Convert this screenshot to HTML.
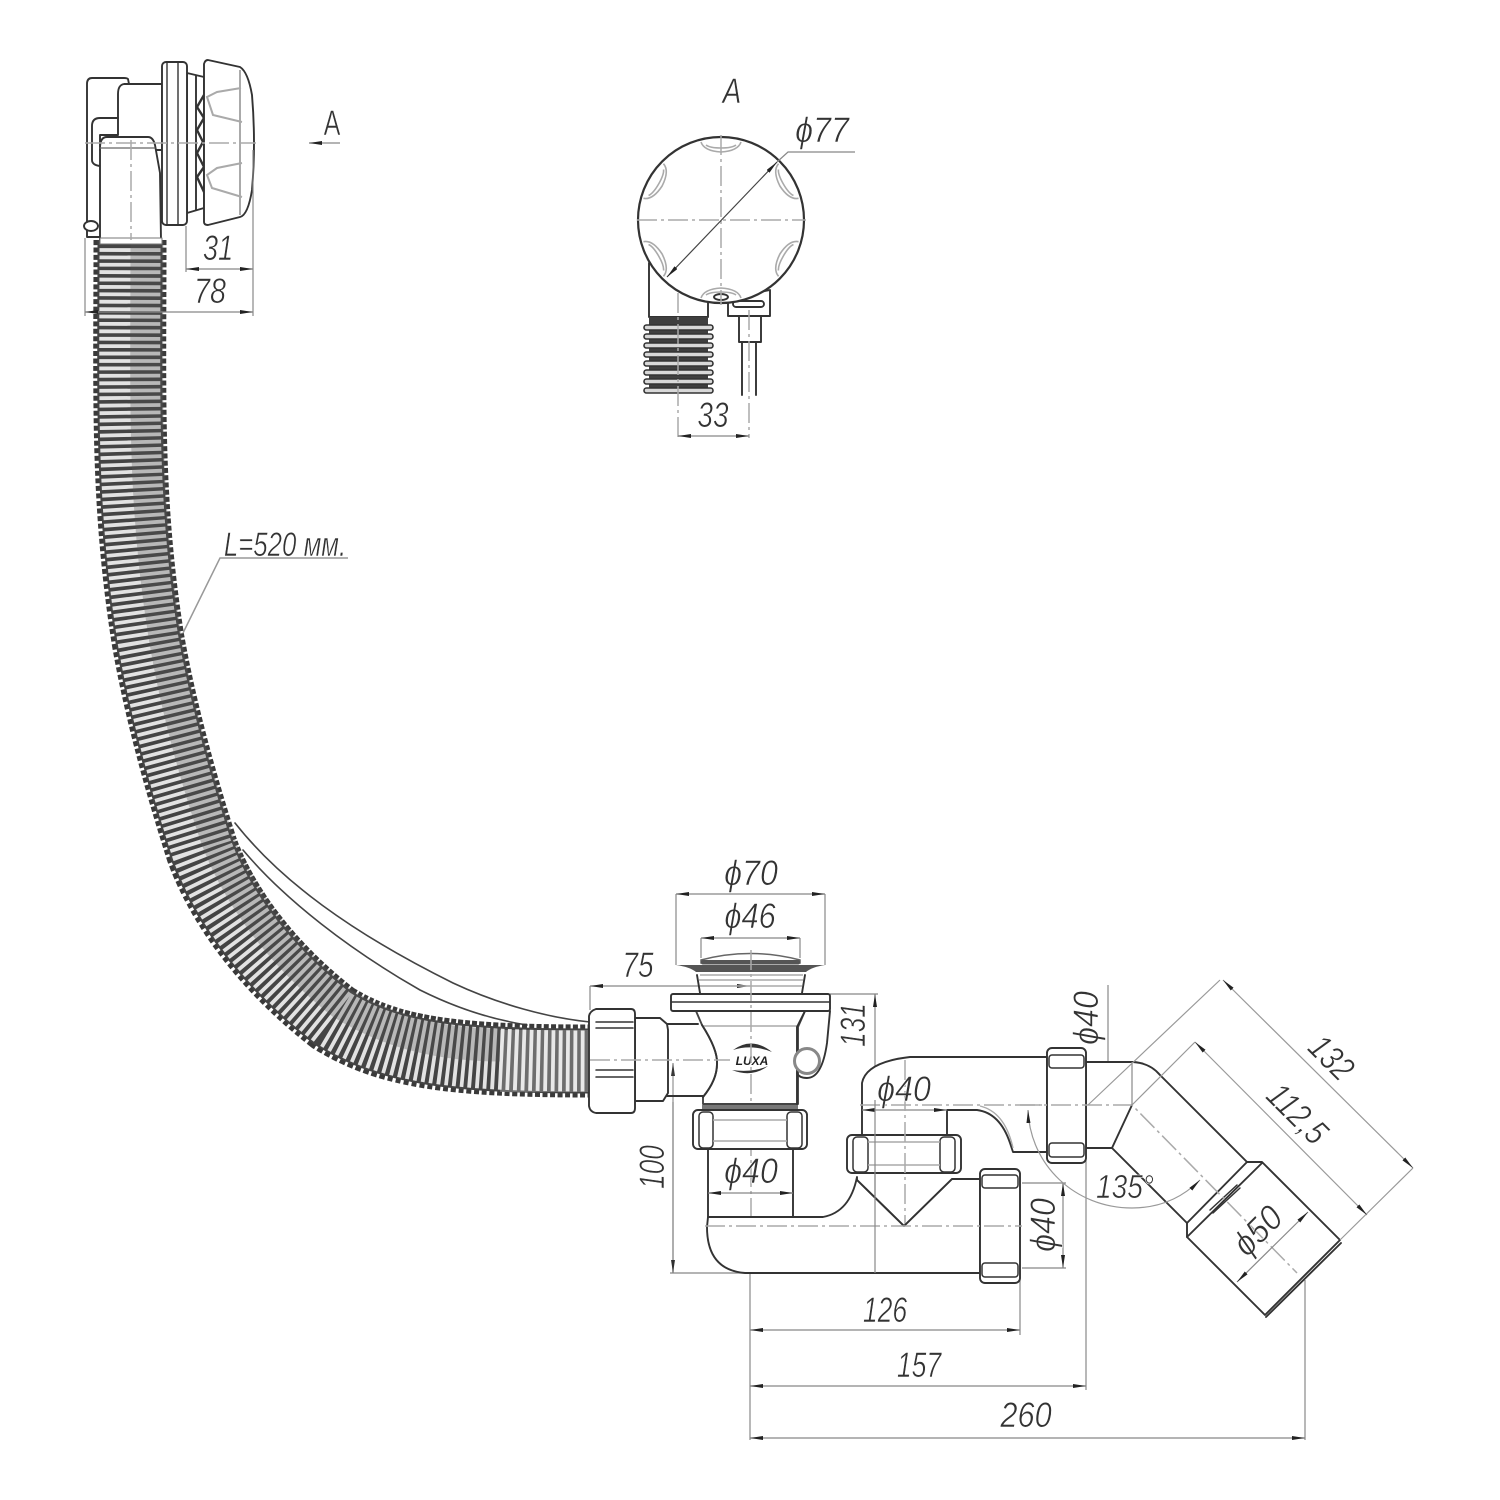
<!DOCTYPE html>
<html lang="ru"><head><meta charset="utf-8"><title>Drain assembly</title>
<style>
html,body{margin:0;padding:0;background:#fff}
svg{display:block;filter:blur(.35px)}
.k{fill:none;stroke:#333;stroke-width:1.9;stroke-linejoin:round;stroke-linecap:round}
.w{fill:#fff;stroke:#333;stroke-width:1.9;stroke-linejoin:round}
.g{fill:none;stroke:#aaa;stroke-width:1.4}
.c{fill:none;stroke:#aaa;stroke-width:1.5;stroke-dasharray:20 4 3 4}
.d{fill:none;stroke:#888;stroke-width:1.2}
.a{marker-start:url(#ar);marker-end:url(#ar)}
.b{marker-end:url(#ar)}
.s{fill:none;stroke:#aaa;stroke-width:1.6}
text{font-family:"Liberation Sans","DejaVu Sans",sans-serif;font-style:italic;font-size:35px;fill:#333;stroke:#fff;stroke-width:.6;text-anchor:middle}
</style></head><body>
<svg width="1500" height="1500" viewBox="0 0 1500 1500" xmlns="http://www.w3.org/2000/svg">
<defs>
<marker id="ar" viewBox="0 0 13 4" refX="13" refY="2" markerUnits="userSpaceOnUse" markerWidth="13" markerHeight="4" orient="auto-start-reverse"><path d="M0 0L13 2L0 4z" fill="#222"/></marker>
</defs>
<rect width="1500" height="1500" fill="#fff"/>

<!-- casing lines of the hose -->
<path class="k" d="M235 823C280 880 350 932 453 983C500 1005 550 1018 590 1022" style="stroke:#444;stroke-width:1.6"/>
<path class="k" d="M243 850C285 900 350 950 420 990C460 1010 495 1020 527 1025" style="stroke:#444;stroke-width:1.6"/>

<!-- hose -->
<g fill="none">
<path d="M130 240C130 400 126 500 148 640C162 720 186 800 202 850C222 905 266 966 333 1018C388 1052 450 1061 590 1061" stroke="#3a3a3a" stroke-width="73" stroke-dasharray="5 2.4"/>
<path d="M130 240C130 400 126 500 148 640C162 720 186 800 202 850C222 905 266 966 333 1018C388 1052 450 1061 590 1061" stroke="#444" stroke-width="65"/>
<path d="M130 240C130 400 126 500 148 640C162 720 186 800 202 850C222 905 266 966 333 1018C388 1052 450 1061 590 1061" stroke="#e2e2e2" stroke-width="61" stroke-dasharray="3.8 3.6" stroke-dashoffset="-.6"/>
<path d="M147 240C147 400 143 500 165 636C178 716 202 795 218 841C238 893 278 952 342 1003C395 1036 450 1045 500 1045" stroke="#555" stroke-opacity=".3" stroke-width="33"/>
<path d="M500 1061L590 1061" stroke="#fff" stroke-opacity=".22" stroke-width="62"/>
</g>

<!-- top-left overflow assembly -->
<path class="k" d="M129 84L128 79Q127 78 124 78H92Q87 78 87 84V237H100"/>
<path class="w" d="M162 84H124Q118 85 118 94V135H100V150L162 150Z" style="stroke:#333"/>
<path class="k" d="M118 118H100Q92 118 92 126V160Q92 165 100 166"/>
<path class="w" d="M100 240V148Q100 137 107 137H148Q153 137 155 145L160 173L161 240Z"/>
<path class="k" d="M100 148H155" style="stroke:#666;stroke-width:1.2"/>
<rect class="w" x="100" y="238" width="62" height="6" style="stroke:#777;stroke-width:1"/>
<ellipse class="w" cx="91" cy="226" rx="7" ry="5"/>
<path class="w" d="M187 73L204 77V208L187 213Z"/>
<path class="k" d="M196 76V210"/>
<rect class="w" x="162" y="62" width="25" height="163" rx="4"/>
<path class="k" d="M167 62V225M178 62V225" style="stroke-width:1.4"/>
<path class="k" d="M204 95L197 107L204 118L197 130L203 142L197 153L204 167L197 177L204 192" style="stroke-width:2.4"/>
<path class="w" d="M204 64Q205 60 208 60L240 67Q248 72 252 95Q256 143 252 190Q248 215 240 217L208 225Q204 225 204 222Z"/>
<path class="g" style="stroke-width:2" d="M241 88L217 92L207 97L213 115L242 122M242 163L217 168L207 175L212 188L242 197M240 70V215"/>
<path class="c" d="M85 143H256M131 140V240"/>
<path class="d" d="M186 226V272M253 150V316M85 238V316"/>
<path class="d a" d="M186 269H253"/>
<path class="d a" d="M85 312H253"/>
<text transform="translate(218,260) scale(.78,1)">31</text>
<text transform="translate(210,303) scale(.82,1)">78</text>
<text transform="translate(332,135) scale(.72,1)" style="font-style:normal">A</text>
<path class="d b" d="M340 143H309"/>

<!-- leader L=520 -->
<path class="d" style="stroke:#999;stroke-width:1.5" d="M183 633L220 558H348"/>
<text transform="translate(285,556) scale(.76,1)" style="font-size:34px">L=520 мм.</text>

<!-- view A -->
<text transform="translate(732,103) scale(.8,1)">A</text>
<path class="w" d="M649 263V317H708V296Z"/>
<rect x="649" y="317" width="59" height="76" fill="#3f3f3f"/>
<g fill="#d8d8d8" stroke="#333" stroke-width="1.6">
<rect x="644" y="325" width="69" height="5" rx="2.5"/>
<rect x="644" y="334" width="69" height="5" rx="2.5"/>
<rect x="644" y="343" width="69" height="5" rx="2.5"/>
<rect x="644" y="352" width="69" height="5" rx="2.5"/>
<rect x="644" y="361" width="69" height="5" rx="2.5"/>
<rect x="644" y="370" width="69" height="5" rx="2.5"/>
<rect x="644" y="379" width="69" height="5" rx="2.5"/>
<rect x="644" y="388" width="69" height="5" rx="2.5"/>
</g>
<path class="w" d="M728 298V316H770V290L760 292Z"/>
<rect x="733" y="301" width="31" height="6" rx="3" class="w"/>
<rect class="w" x="739" y="316" width="22" height="26"/>
<path class="k" d="M742 342V395M756 342V395"/>
<circle class="w" cx="721" cy="220" r="83" style="stroke-width:2.2"/>
<path class="s" d="M701 142Q704 151 721 152Q738 151 741 142M706 145Q710 148 721 148Q732 148 736 145"/>
<path class="s" transform="rotate(60 721 220)" d="M701 142Q704 151 721 152Q738 151 741 142M706 145Q710 148 721 148Q732 148 736 145"/>
<path class="s" transform="rotate(120 721 220)" d="M701 142Q704 151 721 152Q738 151 741 142M706 145Q710 148 721 148Q732 148 736 145"/>
<path class="s" transform="rotate(180 721 220)" d="M701 142Q704 151 721 152Q738 151 741 142M706 145Q710 148 721 148Q732 148 736 145"/>
<path class="s" transform="rotate(240 721 220)" d="M701 142Q704 151 721 152Q738 151 741 142M706 145Q710 148 721 148Q732 148 736 145"/>
<path class="s" transform="rotate(300 721 220)" d="M701 142Q704 151 721 152Q738 151 741 142M706 145Q710 148 721 148Q732 148 736 145"/>
<ellipse class="w" cx="721" cy="297" rx="7" ry="3"/>
<path class="c" d="M637 220H806M721 135V305M678 293V438M749 310V438"/>
<path class="d a" style="stroke:#444" d="M667 277L777 162"/>
<path class="d" d="M777 162L788 152H855"/>
<path class="d a" d="M678 436H749"/>
<text transform="translate(822,142) scale(.92,1)">ϕ77</text>
<text transform="translate(713,427) scale(.8,1)">33</text>

<!-- dimensions behind the siphon -->
<path class="d" d="M676 894V965M825 894V965M701 938V958M800 938V958M590 986V1010"/>
<path class="d a" d="M676 894H825"/>
<path class="d a" d="M701 938H800"/>
<path class="d a" d="M590 986H750"/>
<path class="d" d="M830 994H878"/>
<path class="d" d="M673 1102V1273M670 1273H750"/>
<path class="d a" d="M875 994V1273"/>
<path class="d a" d="M673 1063V1273" style="opacity:.9"/>
<path class="d" d="M750 1240V1440M1020 1270V1335M1086 1160V1390M1305 1280V1440"/>
<path class="d a" d="M750 1330H1020"/>
<path class="d a" d="M750 1386H1086"/>
<path class="d a" d="M750 1438H1305"/>
<path class="d" d="M1022 1183H1066M1022 1268H1066M1108 985V1148"/>
<path class="d a" d="M1063 1183V1268"/>

<!-- drain body -->
<path class="k" d="M697 975L700 993M805 975L802 993"/>
<path class="g" d="M700 975H803M699 980H803M700 986H802"/>
<path d="M701 960Q750 947 800 960V963H701Z" fill="#fff" stroke="#666" stroke-width="1.5"/>
<rect x="701" y="960" width="99" height="4.5" rx="2" fill="#555"/>
<path d="M676 965H825Q812 967 806 972H696Q690 967 676 965Z" fill="#555"/>
<path class="w" d="M696 1011L702 1025Q718 1050 717 1064Q717 1080 703 1097V1104H798V1027L805 1011Z" style="stroke:#444"/>
<path class="g" d="M702 1026H797"/>
<path class="k" d="M797 1027V1104M805 1011L797 1027"/>
<path class="k" d="M830 1011L827 1043Q822 1078 807 1078Q799 1078 797 1073"/>
<circle cx="807" cy="1061" r="12.5" fill="#fff" stroke="#888" stroke-width="3"/>
<path class="k" d="M667 1024H698M667 1096H703"/>
<path class="k" d="M702 1025Q718 1050 717 1064Q717 1080 703 1097"/>
<rect class="w" x="671" y="994" width="159" height="17" rx="2"/>
<path class="k" d="M672 1002H829" style="stroke-width:1.4"/>
<!-- logo -->
<path d="M733 1050Q752 1036 772 1052Q752 1044 733 1050ZM732 1070Q752 1078 768 1066Q752 1073 732 1070Z" fill="#333"/>
<text x="752" y="1065" style="font-size:12px;font-weight:bold;fill:#222;stroke:none">LUXA</text>
<!-- left nut -->
<path class="w" d="M635 1018H660L667 1024L668 1030V1093L663 1101H635Z"/>
<path class="w" d="M589 1016Q590 1011 596 1009L631 1009Q635 1009 635 1014V1108Q635 1113 631 1113H596Q590 1112 589 1106Z"/>
<path class="k" d="M596 1022H633M596 1028H633M596 1070H633M596 1077H633" style="stroke-width:1.5"/>
<path class="c" d="M590 1060H730"/>
<path class="c" d="M751 950V1270"/>
<text transform="translate(751,885) scale(.92,1)">ϕ70</text>
<text transform="translate(750,928) scale(.88,1)">ϕ46</text>
<text transform="translate(638,977) scale(.8,1)">75</text>
<text transform="translate(865,1025) rotate(-90) scale(.75,1)">131</text>
<text transform="translate(664,1167) rotate(-90) scale(.75,1)">100</text>

<!-- siphon U -->
<path class="w" d="M708 1217H823Q850 1212 857 1177L857 1180L904 1226L952 1179H980V1273H745Q707 1270 707 1227Z"/>
<path class="k" d="M708 1149V1217M793 1149V1217"/>
<rect x="702" y="1105" width="96" height="5" fill="#777"/>
<rect class="w" x="693" y="1110" width="114" height="39" rx="5"/>
<rect class="k" x="699" y="1112" width="14" height="36" rx="4" style="stroke-width:1.5"/>
<rect class="k" x="787" y="1112" width="15" height="36" rx="4" style="stroke-width:1.5"/>
<path class="g" d="M713 1120H787M713 1141H787"/>
<path class="d a" d="M708 1193H793"/>
<text transform="translate(751,1183) scale(.92,1)">ϕ40</text>

<path class="w" d="M862 1135V1083Q866 1062 910 1057H1047V1152H1013L1010 1143Q1000 1113 977 1110H947V1135Z"/>
<path class="g" d="M1013 1148Q1005 1112 980 1106"/>
<rect class="w" x="847" y="1135" width="114" height="38" rx="5"/>
<rect class="k" x="853" y="1137" width="15" height="35" rx="4" style="stroke-width:1.5"/>
<rect class="k" x="940" y="1137" width="15" height="35" rx="4" style="stroke-width:1.5"/>
<path class="g" d="M868 1142H940M868 1165H940"/>
<path class="d a" d="M862 1110H947"/>
<path class="c" d="M860 1105H1110M905 1060V1226"/>
<path class="k" d="M857 1180L904 1226L952 1179"/>
<rect class="w" x="980" y="1169" width="40" height="114" rx="5"/>
<rect class="k" x="982" y="1175" width="36" height="13" rx="3" style="stroke-width:1.5"/>
<rect class="k" x="982" y="1263" width="36" height="14" rx="3" style="stroke-width:1.5"/>
<path class="c" d="M705 1226H1022"/>
<path class="d" d="M875 1100V1273" />
<text transform="translate(904,1101) scale(.92,1)">ϕ40</text>
<text transform="translate(1055,1225) rotate(-90) scale(.92,1)">ϕ40</text>
<text transform="translate(885,1322) scale(.76,1)">126</text>
<text transform="translate(919,1377) scale(.76,1)">157</text>
<text transform="translate(1026,1427) scale(.88,1)">260</text>

<!-- right outlet -->
<path class="w" d="M1086 1062H1133Q1150 1063 1160 1075L1247 1162H1262L1340 1240L1265 1315L1187 1237V1223L1112 1148H1086Z"/>
<path class="k" d="M1112 1148L1132 1105"/>
<path class="k" d="M1247 1162L1187 1223M1262 1163L1187 1237"/>
<path class="k" d="M1210 1210L1237 1185M1213 1213L1240 1188" style="stroke-width:1.5"/>
<path class="k" d="M1341 1243L1266 1317"/>
<rect class="w" x="1047" y="1048" width="39" height="115" rx="5"/>
<rect class="k" x="1049" y="1055" width="35" height="13" rx="3" style="stroke-width:1.5"/>
<rect class="k" x="1049" y="1143" width="35" height="14" rx="3" style="stroke-width:1.5"/>
<path class="c" d="M1020 1105H1132L1297 1273"/>
<path class="d" d="M1132 1062V1105"/>
<path class="d" style="stroke:#999" d="M1088 1105L1220 980M1340 1240L1413 1168M1132 1105L1195 1042"/>
<path class="d a" style="stroke:#999" d="M1223 980L1413 1168"/>
<path class="d a" style="stroke:#999" d="M1195 1042L1367 1215"/>
<path class="d a" d="M1237 1282L1308 1212"/>
<path class="d b" style="stroke:#999" d="M1132 1208C1160 1208 1182 1198 1200 1180"/>
<path class="d b" style="stroke:#999" d="M1132 1208C1075 1208 1030 1165 1028 1110"/>
<text transform="translate(1098,1018) rotate(-90) scale(.92,1)">ϕ40</text>
<text transform="translate(1323,1066) rotate(45) scale(.82,1)">132</text>
<text transform="translate(1289,1122) rotate(45) scale(.82,1)">112,5</text>
<text transform="translate(1266,1239) rotate(-45) scale(.92,1)">ϕ50</text>
<text transform="translate(1125,1198) scale(.85,1)" style="font-size:33px">135°</text>
</svg>
</body></html>
